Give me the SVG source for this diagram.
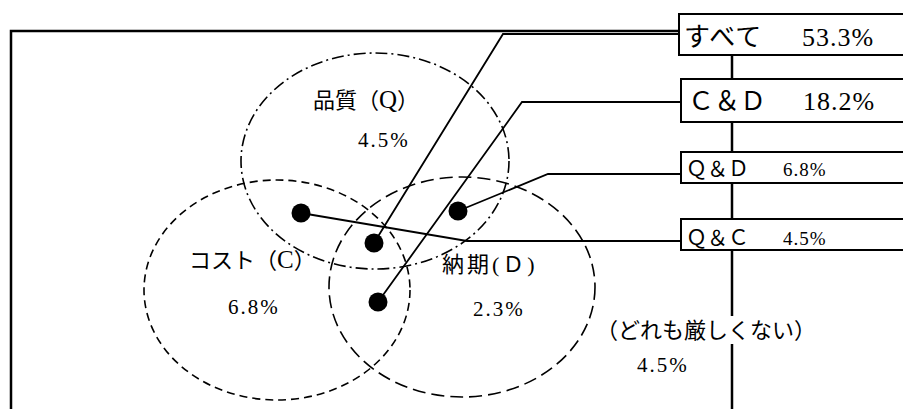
<svg xmlns="http://www.w3.org/2000/svg" width="903" height="409" viewBox="0 0 903 409">
<style>
.frame{fill:none;stroke:#000;stroke-width:2.5}
.conn{fill:none;stroke:#000;stroke-width:1.8}
.q{fill:none;stroke:#000;stroke-width:1.6;stroke-dasharray:12 4 2 4}
.c{fill:none;stroke:#000;stroke-width:1.6;stroke-dasharray:8 5}
.d{fill:none;stroke:#000;stroke-width:1.6;stroke-dasharray:13 6}
.box{fill:#fff;stroke:#000;stroke-width:2}
.dot{fill:#000}
text{font-family:"Liberation Serif","Noto Sans CJK JP",serif;fill:#000}
.lbl{font-size:22px}
.lat{font-size:25px}
.num{font-size:21px;letter-spacing:2px}
.big{font-size:26px}
.mid{font-size:21px}
.midn{font-size:19px;letter-spacing:1px}
</style>
<rect width="903" height="409" fill="#fff"/>
<g id="frame">
<path class="frame" d="M11,409 V31 H680"/>
<line class="frame" x1="732" y1="55" x2="732" y2="409"/>
</g>
<g id="circle-q">
<ellipse class="q" cx="375" cy="161" rx="134" ry="108"/>
<text class="lbl" x="313" y="108">品質（<tspan class="lat">Q</tspan>）</text>
<text class="num" x="358" y="147">4.5%</text>
</g>
<g id="circle-c">
<ellipse class="c" cx="277" cy="290" rx="133" ry="110"/>
<text class="lbl" x="189" y="268">コスト（<tspan class="lat">C</tspan>）</text>
<text class="num" x="228" y="314">6.8%</text>
</g>
<g id="circle-d">
<ellipse class="d" cx="462" cy="287" rx="133" ry="110"/>
<text class="lbl" x="442" y="272" letter-spacing="3">納期(Ｄ)</text>
<text class="num" x="473" y="316">2.3%</text>
</g>
<g id="none">
<rect x="602" y="316" width="220" height="28" fill="#fff"/>
<text class="lbl" x="596" y="338">（どれも厳しくない）</text>
<text class="num" x="637" y="372">4.5%</text>
</g>
<g id="connectors">
<polyline class="conn" points="679,34 503,34 374,243"/>
<polyline class="conn" points="681,102 522,102 378,302"/>
<polyline class="conn" points="681,174 548,174 458,211"/>
<polyline class="conn" points="301,213 467,241 681,241"/>
</g>
<g id="dots">
<circle class="dot" cx="374" cy="243" r="9.5"/>
<circle class="dot" cx="378" cy="302" r="9.5"/>
<circle class="dot" cx="458" cy="211" r="9.5"/>
<circle class="dot" cx="301" cy="213" r="9.5"/>
</g>
<g id="box-all">
<rect class="box" x="679" y="14" width="240" height="41"/>
<text class="big" x="684" y="46" letter-spacing="1">すべて</text>
<text class="big" x="802" y="46" letter-spacing="1">53.3%</text>
</g>
<g id="box-cd">
<rect class="box" x="681" y="79" width="240" height="43"/>
<text class="big" x="688" y="110">Ｃ＆Ｄ</text>
<text class="big" x="803" y="110" letter-spacing="1">18.2%</text>
</g>
<g id="box-qd">
<rect class="box" x="681" y="152" width="240" height="31"/>
<text class="mid" x="686" y="176">Ｑ＆Ｄ</text>
<text class="midn" x="783" y="176">6.8%</text>
</g>
<g id="box-qc">
<rect class="box" x="681" y="219" width="240" height="31"/>
<text class="mid" x="686" y="245">Ｑ＆Ｃ</text>
<text class="midn" x="783" y="245">4.5%</text>
</g>
</svg>
